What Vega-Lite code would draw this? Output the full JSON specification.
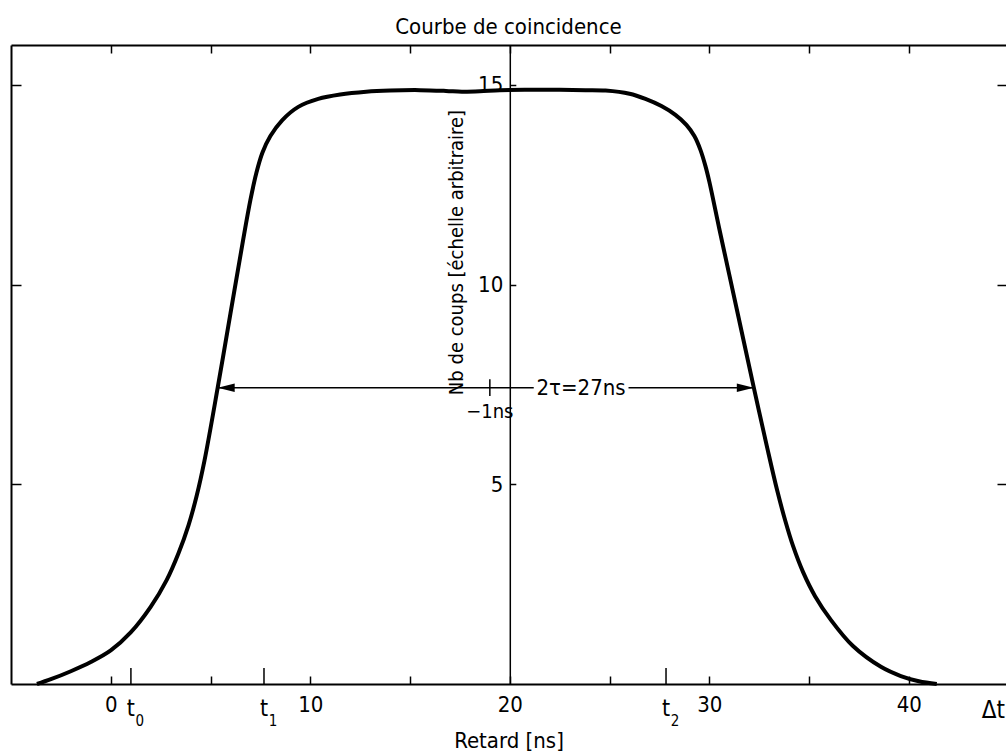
{
  "$schema": "https://vega.github.io/schema/vega-lite/v6.json",
  "width": 995,
  "height": 639,
  "autosize": {"type": "none"},
  "padding": {"left": 11, "top": 45, "right": 0, "bottom": 72},
  "title": {"text": "Courbe de coincidence", "fontSize": 22, "fontWeight": "normal", "font": "Liberation Sans Narrow, DejaVu Sans Condensed, sans-serif", "anchor": "middle", "frame": "group", "baseline": "alphabetic", "offset": -12, "color": "black"},
  "config": {
    "view": {"stroke": null},
    "font": "Liberation Sans Narrow, DejaVu Sans Condensed, sans-serif",
    "axis": {"grid": false, "minExtent": 0, "domainColor": "black", "tickColor": "black", "labelColor": "black", "titleColor": "black", "labelFont": "Liberation Sans Narrow, DejaVu Sans Condensed, sans-serif", "titleFont": "Liberation Sans Narrow, DejaVu Sans Condensed, sans-serif", "labelFontSize": 22, "titleFontSize": 22, "titleFontWeight": "normal", "tickWidth": 1.5, "domainWidth": 2, "labelFlush": false},
    "text": {"color": "black", "font": "Liberation Sans Narrow, DejaVu Sans Condensed, sans-serif"}
  },
  "datasets": {
    "curve": [
      {"t": -3.7, "n": 0}, {"t": -3.0, "n": 0.12}, {"t": -2.0, "n": 0.32}, {"t": -1.0, "n": 0.55},
      {"t": 0.0, "n": 0.84}, {"t": 1.0, "n": 1.29}, {"t": 2.0, "n": 1.93}, {"t": 2.8, "n": 2.6},
      {"t": 3.4, "n": 3.28}, {"t": 3.9, "n": 3.98}, {"t": 4.3, "n": 4.7}, {"t": 4.7, "n": 5.6},
      {"t": 5.36, "n": 7.42}, {"t": 6.0, "n": 9.28}, {"t": 6.6, "n": 11.02}, {"t": 7.0, "n": 12.12},
      {"t": 7.3, "n": 12.8}, {"t": 7.6, "n": 13.3}, {"t": 8.0, "n": 13.72}, {"t": 8.6, "n": 14.12},
      {"t": 9.4, "n": 14.45}, {"t": 10.4, "n": 14.65}, {"t": 11.5, "n": 14.76}, {"t": 12.8, "n": 14.83},
      {"t": 14.0, "n": 14.86}, {"t": 15.5, "n": 14.87}, {"t": 16.8, "n": 14.85}, {"t": 17.6, "n": 14.83},
      {"t": 18.5, "n": 14.84}, {"t": 19.5, "n": 14.87}, {"t": 21.0, "n": 14.88}, {"t": 22.5, "n": 14.88},
      {"t": 23.8, "n": 14.87}, {"t": 24.8, "n": 14.86}, {"t": 26.0, "n": 14.78}, {"t": 26.8, "n": 14.65},
      {"t": 27.6, "n": 14.47}, {"t": 28.3, "n": 14.25}, {"t": 28.85, "n": 14.0}, {"t": 29.25, "n": 13.72},
      {"t": 29.55, "n": 13.38}, {"t": 29.8, "n": 12.98}, {"t": 30.0, "n": 12.58}, {"t": 30.5, "n": 11.4},
      {"t": 31.0, "n": 10.25}, {"t": 31.6, "n": 8.87}, {"t": 32.23, "n": 7.42}, {"t": 32.9, "n": 5.92},
      {"t": 33.4, "n": 4.85}, {"t": 33.8, "n": 4.1}, {"t": 34.2, "n": 3.45}, {"t": 34.7, "n": 2.8},
      {"t": 35.3, "n": 2.2}, {"t": 36.1, "n": 1.6}, {"t": 37.2, "n": 0.95}, {"t": 38.6, "n": 0.43},
      {"t": 39.6, "n": 0.2}, {"t": 40.5, "n": 0.07}, {"t": 41.4, "n": 0}
    ],
    "tmarks": [
      {"t": 1.01, "name": "t", "sub": "0"},
      {"t": 7.68, "name": "t", "sub": "1"},
      {"t": 27.83, "name": "t", "sub": "2"}
    ],
    "arrow": [
      {"x1": 5.36, "x2": 21.2, "y": 7.42},
      {"x1": 25.95, "x2": 32.23, "y": 7.42}
    ],
    "heads": [
      {"x": 5.36, "y": 7.42, "dir": "L"},
      {"x": 32.23, "y": 7.42, "dir": "R"}
    ],
    "offsetTick": [
      {"x": 19, "y": 7.21, "y2": 7.63, "label": "−1ns"}
    ],
    "notes": [
      {"x": 23.57, "y": 7.42, "label": "2τ=27ns"}
    ],
    "dt": [
      {"x": 43.65, "y": 0, "label": "Δt"}
    ]
  },
  "layer": [
    {
      "data": {"name": "curve"},
      "mark": {"type": "line", "color": "black", "strokeWidth": 4, "interpolate": "catmull-rom"},
      "encoding": {
        "x": {"field": "t", "type": "quantitative", "scale": {"domain": [-5, 44.87], "nice": false, "zero": false},
          "axis": {"orient": "bottom", "values": [0, 10, 20, 30, 40], "ticks": false, "labelPadding": 10, "domain": true, "domainWidth": 2, "title": "Retard [ns]", "titlePadding": 15}},
        "y": {"field": "n", "type": "quantitative", "scale": {"domain": [0, 16], "nice": false, "zero": false},
          "axis": {"orient": "right", "offset": -496.2, "values": [5, 10, 15], "tickSize": 6, "labels": false, "domainWidth": 1.5,
            "title": "Nb de coups [échelle arbitraire]", "titleAngle": 270, "titleX": -53, "titleY": 207, "titleFontSize": 20, "titleAlign": "center", "titleBaseline": "middle"}}
      }
    },
    {
      "data": {"name": "tmarks"},
      "mark": {"type": "rule", "color": "black", "strokeWidth": 1.5},
      "encoding": {
        "x": {"field": "t", "type": "quantitative", "scale": {"domain": [-5, 44.87], "nice": false, "zero": false},
          "axis": {"orient": "top", "values": [0, 5, 10, 15, 20, 25, 30, 35, 40], "tickSize": -8, "labels": false, "domain": true, "domainWidth": 2, "title": null}},
        "y": {"datum": 0, "type": "quantitative", "scale": {"domain": [0, 16], "nice": false, "zero": false},
          "axis": {"orient": "left", "values": [5, 10, 15], "tickSize": -10, "labels": false, "domain": true, "domainWidth": 2, "title": null}},
        "y2": {"datum": 0.4}
      }
    },
    {
      "data": {"name": "arrow"},
      "mark": {"type": "rule", "color": "black", "strokeWidth": 1.5},
      "encoding": {
        "x": {"field": "x1", "type": "quantitative", "scale": {"domain": [-5, 44.87], "nice": false, "zero": false},
          "axis": {"orient": "bottom", "values": [0, 5, 10, 15, 20, 25, 30, 35, 40], "tickSize": -8, "labels": false, "domain": false, "title": null}},
        "x2": {"field": "x2"},
        "y": {"field": "y", "type": "quantitative", "scale": {"domain": [0, 16], "nice": false, "zero": false},
          "axis": {"orient": "right", "values": [5, 10, 15], "tickSize": -9, "labels": false, "domain": false, "title": null}}
      }
    },
    {
      "data": {"name": "offsetTick"},
      "mark": {"type": "rule", "color": "black", "strokeWidth": 1.5},
      "encoding": {
        "x": {"field": "x", "type": "quantitative", "scale": {"domain": [-5, 44.87], "nice": false, "zero": false}, "axis": null},
        "y": {"field": "y", "type": "quantitative", "scale": {"domain": [0, 16], "nice": false, "zero": false},
          "axis": {"orient": "right", "offset": -496.2, "values": [5, 10, 15], "ticks": false, "domain": false, "labelAlign": "right", "labelBaseline": "middle", "labelPadding": -7, "labelFontSize": 22, "title": null}},
        "y2": {"field": "y2"}
      }
    },
    {
      "data": {"name": "offsetTick"},
      "mark": {"type": "text", "fontSize": 20, "baseline": "middle", "align": "center", "dy": 24},
      "encoding": {
        "x": {"field": "x", "type": "quantitative", "axis": null},
        "y": {"datum": 7.42, "type": "quantitative", "axis": null},
        "text": {"field": "label"}
      }
    },
    {
      "data": {"name": "heads"},
      "mark": {"type": "point", "filled": true, "opacity": 1, "color": "black", "size": 289, "strokeWidth": 0},
      "encoding": {
        "x": {"field": "x", "type": "quantitative", "axis": null},
        "y": {"field": "y", "type": "quantitative", "axis": null},
        "shape": {"field": "dir", "type": "nominal", "scale": {"domain": ["L", "R"], "range": ["M0,0L2,-0.5L2,0.5Z", "M0,0L-2,-0.5L-2,0.5Z"]}, "legend": null}
      }
    },
    {
      "data": {"name": "notes"},
      "mark": {"type": "text", "fontSize": 22, "baseline": "middle", "align": "center"},
      "encoding": {
        "x": {"field": "x", "type": "quantitative", "axis": null},
        "y": {"field": "y", "type": "quantitative", "axis": null},
        "text": {"field": "label"}
      }
    },
    {
      "data": {"name": "tmarks"},
      "mark": {"type": "text", "fontSize": 23, "baseline": "middle", "align": "center", "dy": 25},
      "encoding": {
        "x": {"field": "t", "type": "quantitative", "axis": null},
        "y": {"datum": 0, "type": "quantitative", "axis": null},
        "text": {"field": "name"}
      }
    },
    {
      "data": {"name": "tmarks"},
      "mark": {"type": "text", "fontSize": 15, "baseline": "middle", "align": "center", "dx": 9, "dy": 37},
      "encoding": {
        "x": {"field": "t", "type": "quantitative", "axis": null},
        "y": {"datum": 0, "type": "quantitative", "axis": null},
        "text": {"field": "sub"}
      }
    },
    {
      "data": {"name": "dt"},
      "mark": {"type": "text", "fontSize": 24, "baseline": "middle", "align": "left", "dy": 27},
      "encoding": {
        "x": {"field": "x", "type": "quantitative", "axis": null},
        "y": {"field": "y", "type": "quantitative", "axis": null},
        "text": {"field": "label"}
      }
    }
  ],
  "resolve": {"axis": {"x": "independent", "y": "independent"}}
}
